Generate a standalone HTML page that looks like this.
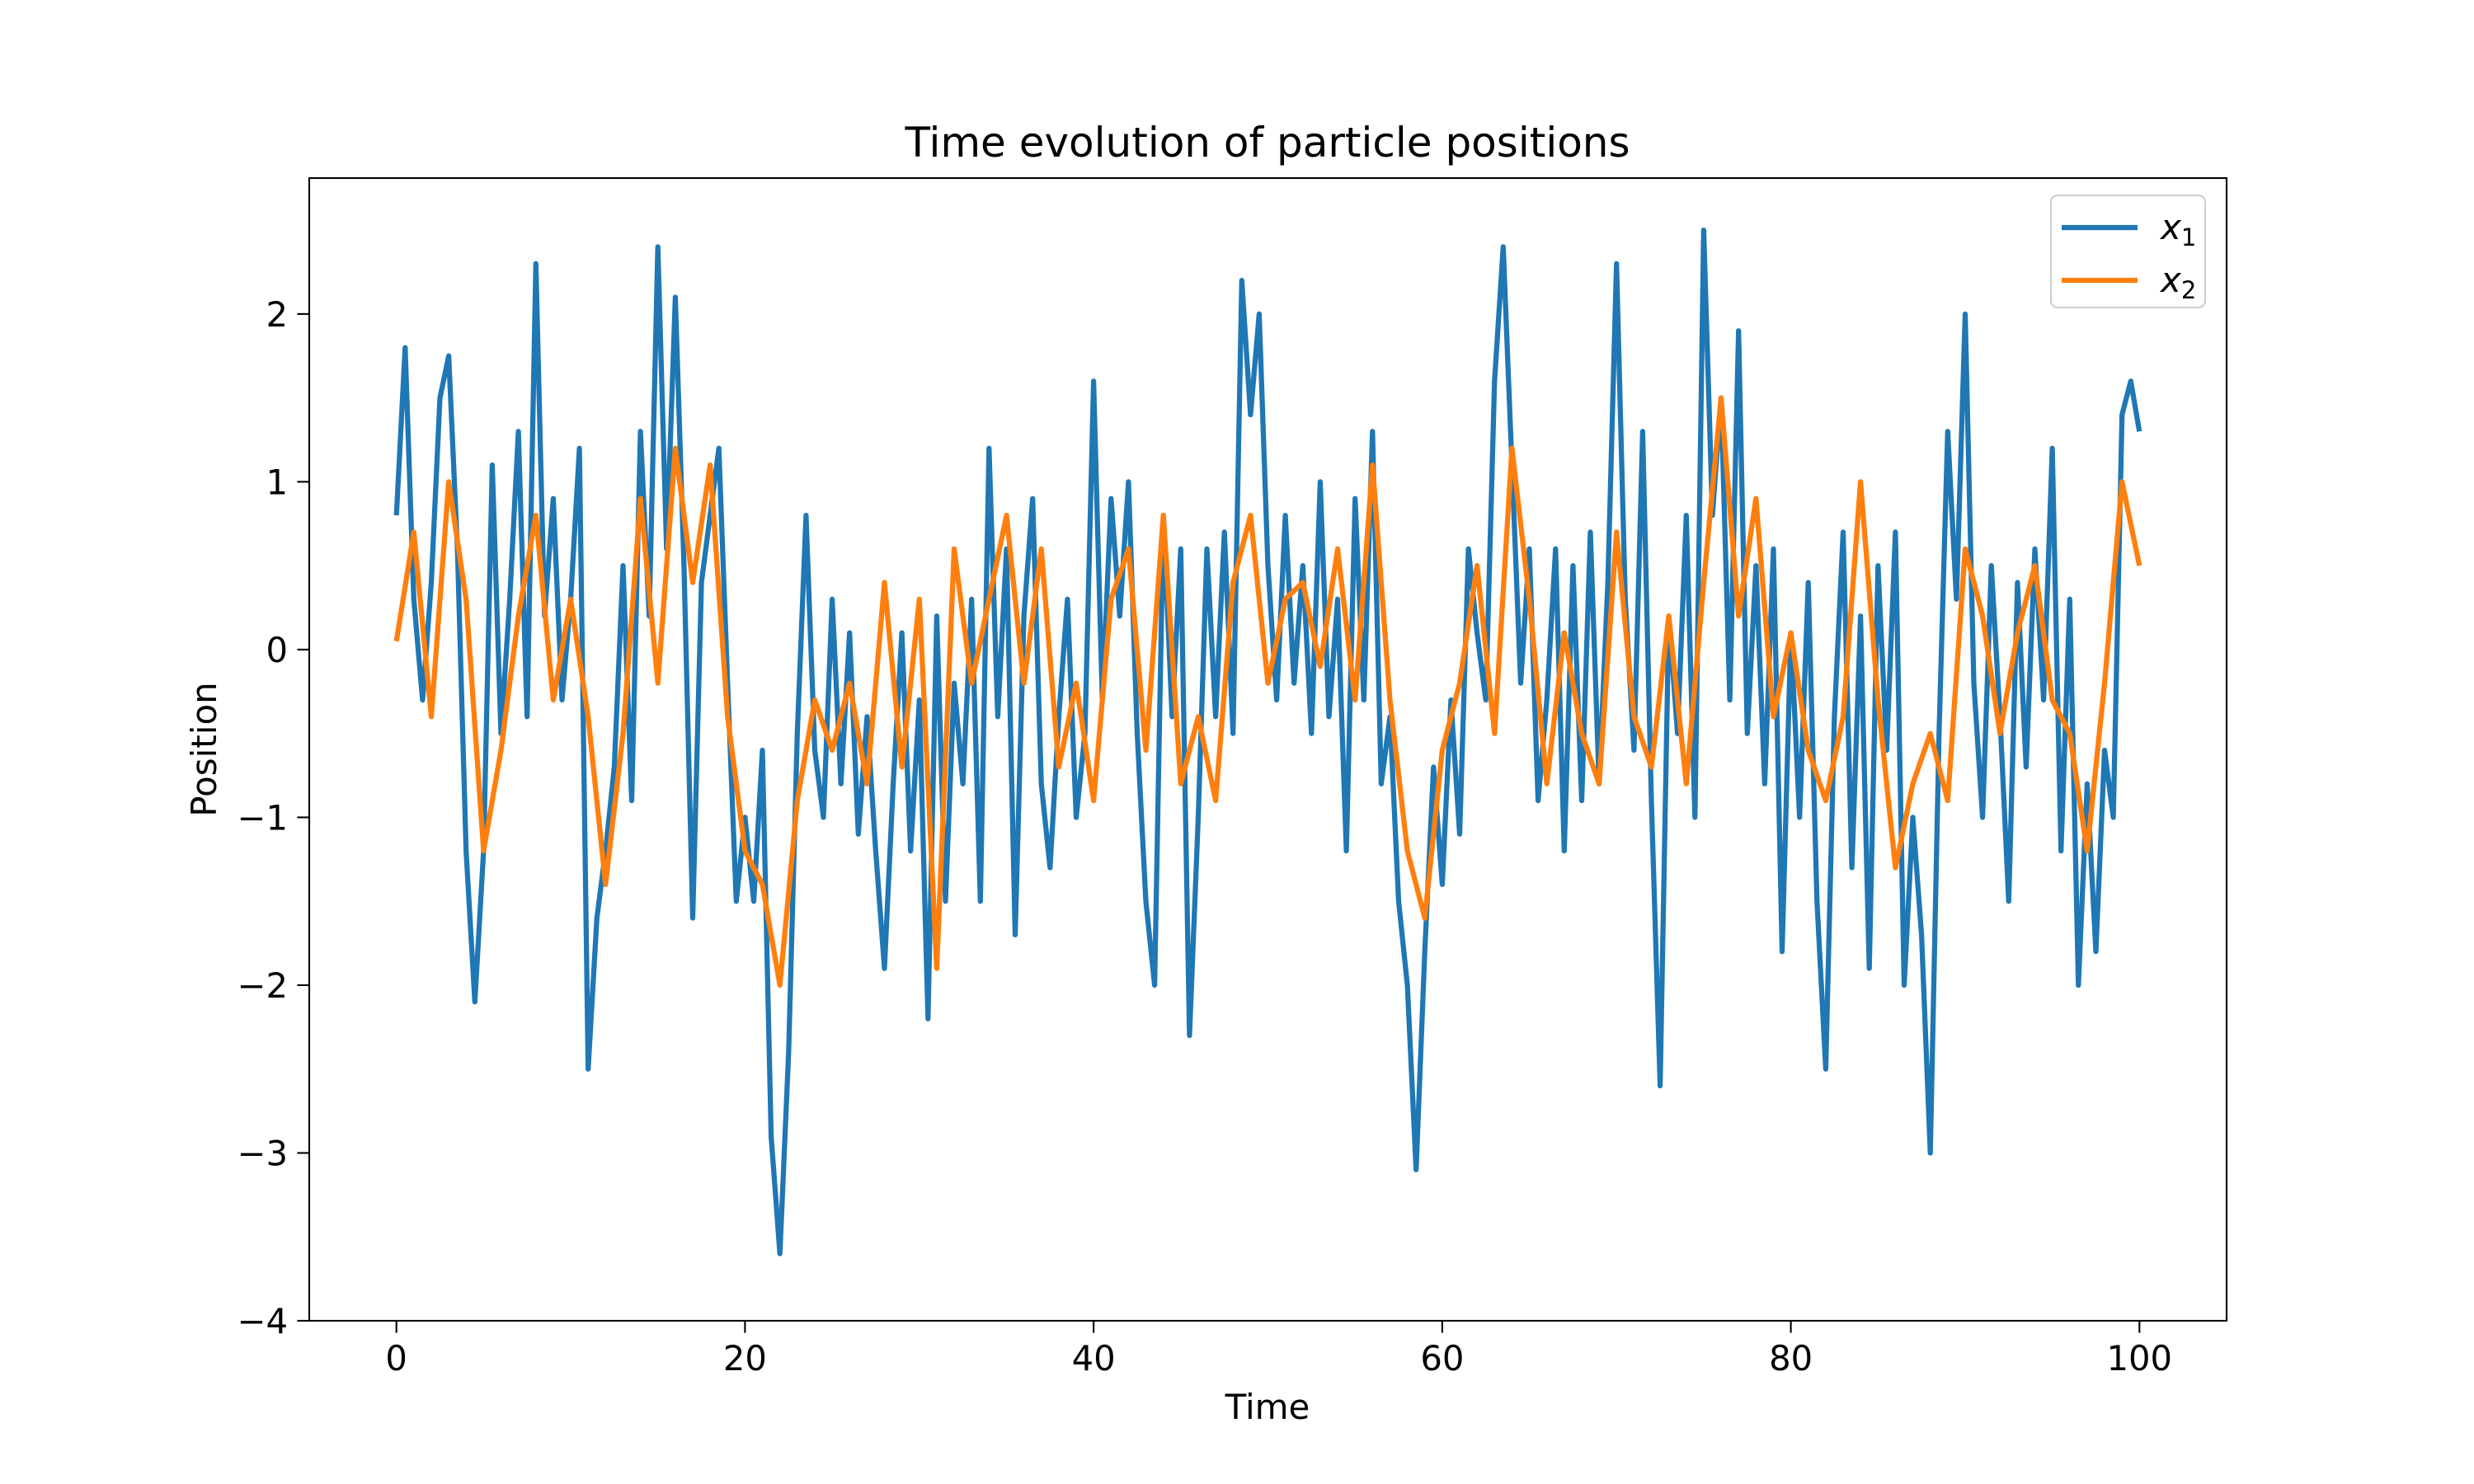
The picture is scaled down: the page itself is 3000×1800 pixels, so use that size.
<!DOCTYPE html>
<html><head><meta charset="utf-8"><style>body{margin:0;background:#fff}svg{display:block;font-family:"DejaVu Sans","Liberation Sans",sans-serif}</style></head>
<body>
<svg id="chart" width="3000" height="1800" viewBox="0 0 3000 1800">
<rect width="3000" height="1800" fill="#fff"/>
<text x="1537" y="190" font-size="50" text-anchor="middle">Time evolution of particle positions</text>
<g id="plot"></g>
<rect x="375" y="216" width="2325" height="1386" fill="none" stroke="#000" stroke-width="2.1"/>
<g id="axes"></g>
<text x="1537" y="1721" font-size="42" text-anchor="middle">Time</text>
<text x="0" y="0" font-size="42" text-anchor="middle" transform="translate(262,909) rotate(-90)">Position</text>
<g>
<rect x="2487" y="237" width="187" height="136" rx="8" fill="#fff" fill-opacity="0.8" stroke="#ccc" stroke-width="2.1"/>
<line x1="2500" y1="276" x2="2592" y2="276" stroke="#1f77b4" stroke-width="6.25"/>
<text x="2620" y="290" font-size="42" font-style="italic">x<tspan font-size="29" dy="8" font-style="normal">1</tspan></text>
<line x1="2500" y1="340" x2="2592" y2="340" stroke="#ff7f0e" stroke-width="6.25"/>
<text x="2620" y="354" font-size="42" font-style="italic">x<tspan font-size="29" dy="8" font-style="normal">2</tspan></text>
</g>
</svg>
<script>
const x1Values = [0.8,1.8,0.3,-0.3,0.4,1.5,1.75,0.6,-1.2,-2.1,-1.2,1.1,-0.5,0.3,1.3,-0.4,2.3,0.2,0.9,-0.3,0.3,1.2,-2.5,-1.6,-1.2,-0.7,0.5,-0.9,1.3,0.2,2.4,0.6,2.1,0.5,-1.6,0.4,0.8,1.2,-0.2,-1.5,-1.0,-1.5,-0.6,-2.9,-3.6,-2.4,-0.5,0.8,-0.6,-1.0,0.3,-0.8,0.1,-1.1,-0.4,-1.2,-1.9,-0.8,0.1,-1.2,-0.3,-2.2,0.2,-1.5,-0.2,-0.8,0.3,-1.5,1.2,-0.4,0.6,-1.7,0.2,0.9,-0.8,-1.3,-0.4,0.3,-1.0,-0.5,1.6,-0.3,0.9,0.2,1.0,-0.5,-1.5,-2.0,0.8,-0.4,0.6,-2.3,-1.0,0.6,-0.4,0.7,-0.5,2.2,1.4,2.0,0.5,-0.3,0.8,-0.2,0.5,-0.5,1.0,-0.4,0.3,-1.2,0.9,-0.3,1.3,-0.8,-0.4,-1.5,-2.0,-3.1,-1.8,-0.7,-1.4,-0.3,-1.1,0.6,0.1,-0.3,1.6,2.4,1.1,-0.2,0.6,-0.9,-0.3,0.6,-1.2,0.5,-0.9,0.7,-0.8,0.4,2.3,0.3,-0.6,1.3,-0.9,-2.6,0.2,-0.5,0.8,-1.0,2.5,0.8,1.5,-0.3,1.9,-0.5,0.5,-0.8,0.6,-1.8,0.1,-1.0,0.4,-1.5,-2.5,-0.4,0.7,-1.3,0.2,-1.9,0.5,-0.6,0.7,-2.0,-1.0,-1.7,-3.0,-0.5,1.3,0.3,2.0,-0.2,-1.0,0.5,-0.4,-1.5,0.4,-0.7,0.6,-0.3,1.2,-1.2,0.3,-2.0,-0.8,-1.8,-0.6,-1.0,1.4,1.6,1.3];
const x2Values = [0.05,0.7,-0.4,1.0,0.3,-1.2,-0.6,0.2,0.8,-0.3,0.3,-0.4,-1.4,-0.5,0.9,-0.2,1.2,0.4,1.1,-0.4,-1.2,-1.4,-2.0,-0.9,-0.3,-0.6,-0.2,-0.8,0.4,-0.7,0.3,-1.9,0.6,-0.2,0.3,0.8,-0.2,0.6,-0.7,-0.2,-0.9,0.3,0.6,-0.6,0.8,-0.8,-0.4,-0.9,0.4,0.8,-0.2,0.3,0.4,-0.1,0.6,-0.3,1.1,-0.3,-1.2,-1.6,-0.6,-0.2,0.5,-0.5,1.2,0.3,-0.8,0.1,-0.5,-0.8,0.7,-0.4,-0.7,0.2,-0.8,0.4,1.5,0.2,0.9,-0.4,0.1,-0.6,-0.9,-0.4,1.0,-0.3,-1.3,-0.8,-0.5,-0.9,0.6,0.2,-0.5,0.1,0.5,-0.3,-0.5,-1.2,-0.2,1.0,0.5];
const xTicks = [0,20,40,60,80,100];
const yTicks = [-4,-3,-2,-1,0,1,2];
const xMin=-5,xMax=105,yMin=-4,yMax=2.81;
const L=375,R=2700,T=216,B=1602;
function sx(v){return L+(v-xMin)/(xMax-xMin)*(R-L);}
function sy(v){return B-(v-yMin)/(yMax-yMin)*(B-T);}
const NS="http://www.w3.org/2000/svg";
const plot=document.getElementById('plot'), axes=document.getElementById('axes');
function series(vals,step,color,name){
  const p=document.createElementNS(NS,'polyline');
  p.setAttribute('points',vals.map((v,i)=>sx(i*step).toFixed(1)+','+sy(v).toFixed(1)).join(' '));
  p.setAttribute('fill','none');p.setAttribute('stroke',color);p.setAttribute('stroke-width','6.25');p.setAttribute('stroke-linejoin','round');
  
  
  plot.appendChild(p);
}
series(x1Values,100/(x1Values.length-1),'#1f77b4','series-x1');
series(x2Values,100/(x2Values.length-1),'#ff7f0e','series-x2');
xTicks.forEach(t=>{
  const l=document.createElementNS(NS,'line');
  l.setAttribute('x1',sx(t));l.setAttribute('x2',sx(t));l.setAttribute('y1',B);l.setAttribute('y2',B+14.6);l.setAttribute('stroke','#000');l.setAttribute('stroke-width','2.1');
  
  
  axes.appendChild(l);
  const tx=document.createElementNS(NS,'text');
  tx.setAttribute('x',sx(t));tx.setAttribute('y',B+60);tx.setAttribute('font-size','41.7');tx.setAttribute('text-anchor','middle');tx.textContent=t;
  
  
  axes.appendChild(tx);
});
yTicks.forEach(t=>{
  const l=document.createElementNS(NS,'line');
  l.setAttribute('x1',L-14.6);l.setAttribute('x2',L);l.setAttribute('y1',sy(t));l.setAttribute('y2',sy(t));l.setAttribute('stroke','#000');l.setAttribute('stroke-width','2.1');
  
  
  axes.appendChild(l);
  const tx=document.createElementNS(NS,'text');
  tx.setAttribute('x',L-26);tx.setAttribute('y',sy(t)+15);tx.setAttribute('font-size','41.7');tx.setAttribute('text-anchor','end');tx.textContent=t<0?'\u2212'+(-t):t;
  
  
  axes.appendChild(tx);
});
</script>
</body></html>
